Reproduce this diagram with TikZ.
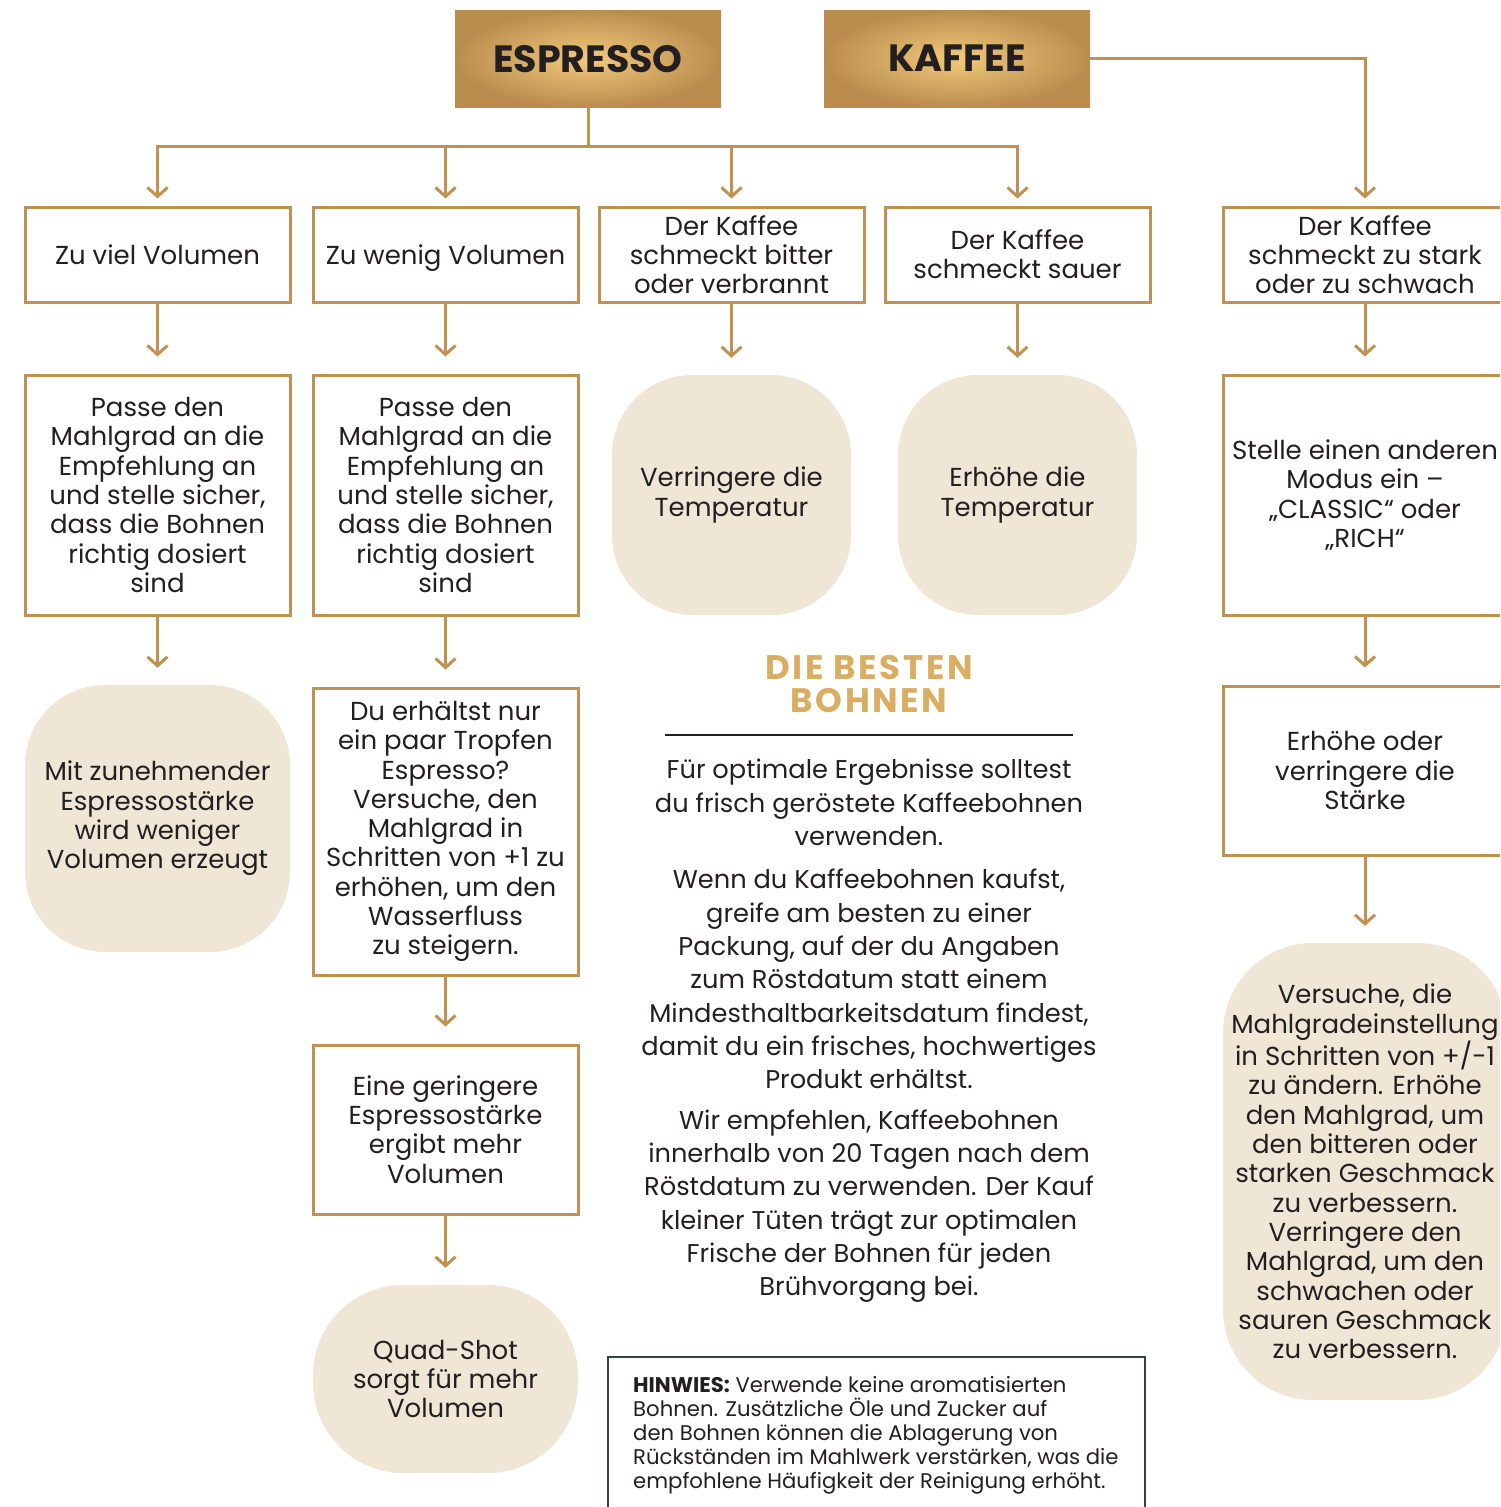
\documentclass[tikz,border=0pt]{standalone}
\usepackage{fontspec}
\setmainfont{Poppins}
\usetikzlibrary{arrows.meta}
\definecolor{gold}{HTML}{BF9152}
\definecolor{cream}{HTML}{F0E6D6}
\definecolor{ink}{HTML}{231F20}
\definecolor{goldtxt}{HTML}{D9AE63}
\definecolor{goldlight}{HTML}{F2CA7C}
\definecolor{golddark}{HTML}{BA8D4E}
\definecolor{noteframe}{HTML}{34404F}
\tikzset{
  every node/.style={text=ink, align=center, inner sep=0pt},
  boxtxt/.style={font=\fontsize{26}{29.3}\selectfont},
  sqbox/.style={boxtxt, draw=gold, line width=3pt, fill=white, minimum width=265pt},
  softbox/.style={boxtxt, fill=cream, rounded corners=80pt, minimum width=265pt},
  header/.style={inner color=goldlight, outer color=golddark, shading=radial, minimum width=266pt, minimum height=97pt, font=\fontsize{38}{40}\selectfont\bfseries},
  conn/.style={draw=gold, line width=3pt, -{Straight Barb[length=9pt,width=20pt]}, shorten >=17pt},
  topconn/.style={conn, shorten >=7pt},
  bodytxt/.style={font=\fontsize{25.7}{33.3}\selectfont},
  titletxt/.style={font=\fontsize{34}{33}\selectfont\bfseries\addfontfeature{LetterSpace=8}, text=goldtxt, text depth=0pt},
}
\begin{document}
\begin{tikzpicture}[x=1pt,y=-1pt]
\useasboundingbox (0,0) rectangle (1500,1507);
\clip (0,0) rectangle (1500,1507);
% headers
\node[header, text depth=0pt] (esp) at (588,58.5) {ESPRESSO};
\node[header, text depth=0pt] (kaf) at (957,58.5) {KAFFEE};
% row 1
\node[sqbox, minimum height=95pt, text depth=0pt] (a1) at (157.5,254.5) {Zu viel Volumen};
\node[sqbox, minimum height=95pt, text depth=0pt] (b1) at (445.5,254.5) {Zu wenig Volumen};
\node[sqbox, minimum height=95pt] (c1) at (731.5,254.5) {Der Kaffee\\schmeckt bitter\\oder verbrannt};
\node[sqbox, minimum height=95pt] (d1) at (1017.5,254.5) {Der Kaffee\\schmeckt sauer};
\node[sqbox, minimum height=95pt, minimum width=284pt] (e1) at (1365,254.5) {Der Kaffee\\schmeckt zu stark\\oder zu schwach};
% row 2
\node[sqbox, minimum height=240pt] (a2) at (157.5,495) {Passe den\\Mahlgrad an die\\Empfehlung an\\und stelle sicher,\\dass die Bohnen\\richtig dosiert\\sind};
\node[sqbox, minimum height=240pt] (b2) at (445.5,495) {Passe den\\Mahlgrad an die\\Empfehlung an\\und stelle sicher,\\dass die Bohnen\\richtig dosiert\\sind};
\node[softbox, minimum width=239pt, minimum height=240pt] (c2) at (731.5,495) {Verringere die\\Temperatur};
\node[softbox, minimum width=239pt, minimum height=240pt] (d2) at (1017.5,495) {Erhöhe die\\Temperatur};
\node[sqbox, minimum height=240pt, minimum width=284pt] (e2) at (1365,495) {Stelle einen anderen\\Modus ein –\\„CLASSIC“ oder\\„RICH“};
% row 3
\node[softbox, minimum height=267pt] (a3) at (157.5,818.5) {Mit zunehmender\\Espressostärke\\wird weniger\\Volumen erzeugt};
\node[sqbox, minimum height=287pt] (b3) at (445.5,831.5) {Du erhältst nur\\ein paar Tropfen\\Espresso?\\Versuche, den\\Mahlgrad in\\Schritten von +1 zu\\erhöhen, um den\\Wasserfluss\\zu steigern.};
\node[sqbox, minimum height=169pt, minimum width=284pt] (e3) at (1365,770.5) {Erhöhe oder\\verringere die\\Stärke};
% row 4
\node[sqbox, minimum height=169pt] (b4) at (445.5,1129.5) {Eine geringere\\Espressostärke\\ergibt mehr\\Volumen};
\node[softbox, minimum height=457pt, minimum width=284pt, rounded corners=90pt] (e4) at (1365,1171.5) {Versuche, die\\Mahlgradeinstellung\\in Schritten von +/-1\\zu ändern. Erhöhe\\den Mahlgrad, um\\den bitteren oder\\starken Geschmack\\zu verbessern.\\Verringere den\\Mahlgrad, um den\\schwachen oder\\sauren Geschmack\\zu verbessern.};
% row 5
\node[softbox, minimum height=188pt, rounded corners=90pt] (b5) at (445.5,1379) {Quad-Shot\\sorgt für mehr\\Volumen};
% connectors from headers
\foreach \t in {a1,b1,c1,d1} {\draw[topconn] (esp.south) -- ++(0,39) -| (\t.north);}
\draw[topconn] (kaf.east) -| (e1.north);
% vertical connectors
\draw[conn] (a1) -- (a2);
\draw[conn] (a2) -- (a3);
\draw[conn] (b1) -- (b2);
\draw[conn] (b2) -- (b3);
\draw[conn] (b3) -- (b4);
\draw[conn] (b4) -- (b5);
\draw[conn] (c1) -- (c2);
\draw[conn] (d1) -- (d2);
\draw[conn] (e1) -- (e2);
\draw[conn] (e2) -- (e3);
\draw[conn] (e3) -- (e4);
% center text
\node[titletxt, anchor=base] (title1) at (869,679) {DIE BESTEN};
\node[titletxt, anchor=base] (title2) at (869,712) {BOHNEN};
\coordinate (rl) at (665,735);
\coordinate (rr) at (1073,735);
\draw[ink, line width=2.5pt] (rl) -- (rr);
\node[bodytxt] (p1) at (869,802.5) {Für optimale Ergebnisse solltest\\du frisch geröstete Kaffeebohnen\\verwenden.};
\node[bodytxt] (p2) at (869,979) {Wenn du Kaffeebohnen kaufst,\\greife am besten zu einer\\Packung, auf der du Angaben\\zum Röstdatum statt einem\\Mindesthaltbarkeitsdatum findest,\\damit du ein frisches, hochwertiges\\Produkt erhältst.};
\node[bodytxt] (p3) at (869,1206) {Wir empfehlen, Kaffeebohnen\\innerhalb von 20 Tagen nach dem\\Röstdatum zu verwenden. Der Kauf\\kleiner Tüten trägt zur optimalen\\Frische der Bohnen für jeden\\Brühvorgang bei.};
% note
\draw[noteframe, line width=1.5pt] (608,1520) |- (1145,1357) coordinate (nt) -- (1145,1520);
\node[anchor=north west, align=left, font=\fontsize{21.2}{24}\selectfont] (note) at (633,1376) {\textbf{HINWIES:} Verwende keine aromatisierten\\Bohnen. Zusätzliche Öle und Zucker auf\\den Bohnen können die Ablagerung von\\Rückständen im Mahlwerk verstärken, was die\\empfohlene Häufigkeit der Reinigung erhöht.};
\end{tikzpicture}
\end{document}
